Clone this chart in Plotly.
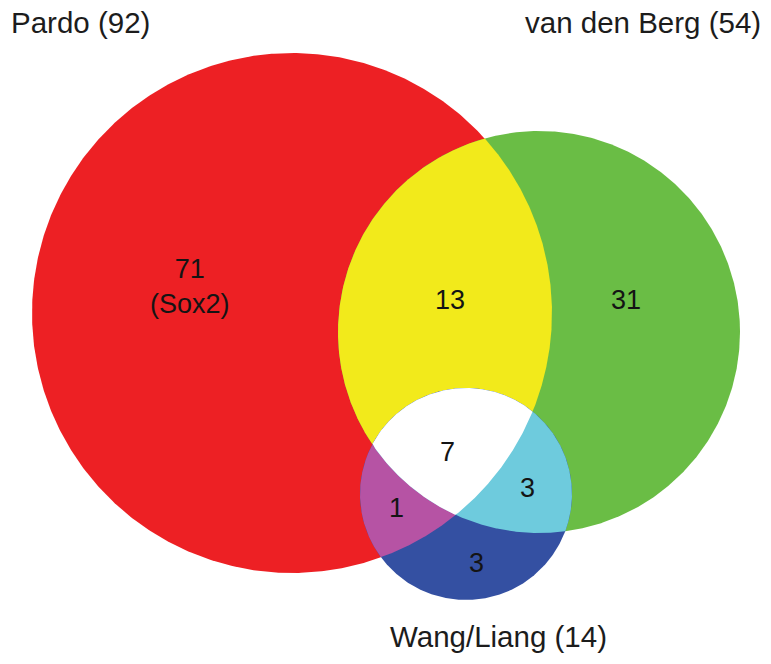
import numpy as np
import plotly.graph_objects as go

# ---- data ----
set_names = ["Pardo", "van den Berg", "Wang/Liang"]
set_totals = [92, 54, 14]
region_names = ["Pardo only", "van den Berg only", "Pardo & van den Berg",
                "all three", "Pardo & Wang/Liang", "van den Berg & Wang/Liang",
                "Wang/Liang only"]
region_counts = [71, 31, 13, 7, 1, 3, 3]
region_notes = ["(Sox2)", "", "", "", "", "", ""]

# ---- layout (pixel geometry of the circles) ----
W, H = 771, 664
circles = {  # cx, cy, r
    "Pardo": (292, 313, 260),
    "van den Berg": (539, 332, 201),
    "Wang/Liang": (466, 494, 106),
}
colors = {
    "red": "#ED2024", "green": "#6ABD45", "yellow": "#F2EA1B",
    "white": "#FFFFFF", "magenta": "#B653A4", "cyan": "#6ECBDD", "blue": "#3450A2",
}


def circle_pts(c, n=720):
    cx, cy, r = c
    t = np.linspace(0, 2 * np.pi, n, endpoint=False)
    return cx + r * np.cos(t), cy + r * np.sin(t)


def inside(x, y, c, tol=1e-6):
    cx, cy, r = c
    return (x - cx) ** 2 + (y - cy) ** 2 <= r * r + tol


def intersect(cs):
    xs, ys = [], []
    for i, c in enumerate(cs):
        x, y = circle_pts(c, 2000)
        m = np.ones_like(x, dtype=bool)
        for j, d in enumerate(cs):
            if j != i:
                m &= inside(x, y, d, tol=1.0)
        xs.append(x[m]); ys.append(y[m])
    x = np.concatenate(xs); y = np.concatenate(ys)
    mx, my = x.mean(), y.mean()
    order = np.argsort(np.arctan2(y - my, x - mx))
    return x[order], y[order]


P, V, Wc = circles["Pardo"], circles["van den Berg"], circles["Wang/Liang"]
layers = [
    (circle_pts(P), colors["red"]),
    (circle_pts(V), colors["green"]),
    (intersect([P, V]), colors["yellow"]),
    (circle_pts(Wc), colors["blue"]),
    (intersect([Wc, P]), colors["magenta"]),
    (intersect([Wc, V]), colors["cyan"]),
    (intersect([Wc, P, V]), colors["white"]),
]

fig = go.Figure()
for (x, y), col in layers:
    fig.add_trace(go.Scatter(
        x=np.append(x, x[0]), y=np.append(y, y[0]), mode="lines",
        fill="toself", fillcolor=col, line=dict(width=0, color=col),
        hoverinfo="skip", showlegend=False))

# region labels
label_pos = [(190, 286), (626, 300), (450, 300), (447, 452),
             (396, 508), (527, 488), (476, 563)]
for (lx, ly), cnt, note in zip(label_pos, region_counts, region_notes):
    txt = f"{cnt}" + (f"<br>{note}" if note else "")
    fig.add_annotation(x=lx, y=ly, xref="x", yref="y", text=txt,
                       showarrow=False,
                       font=dict(family="Liberation Sans, Arial", size=27,
                                 color="#141414"))

# set labels
title_pos = [(9, 22, "left"), (763, 22, "right"), (498, 636, "center")]
for (tx, ty, anc), name, tot in zip(title_pos, set_names, set_totals):
    fig.add_annotation(x=tx, y=ty, xref="x", yref="y", text=f"{name} ({tot})",
                       showarrow=False, xanchor=anc, yanchor="middle",
                       font=dict(family="Liberation Sans, Arial", size=29.5,
                                 color="#1c1c1c"))

fig.update_layout(
    width=W, height=H, margin=dict(l=0, r=0, t=0, b=0),
    paper_bgcolor="white", plot_bgcolor="white",
    xaxis=dict(range=[0, W], visible=False, fixedrange=True),
    yaxis=dict(range=[H, 0], visible=False, fixedrange=True),
)
fig.write_html("out.html", config={"displayModeBar": False},
               post_script="document.body.style.margin='0';"
                           "document.body.style.overflow='hidden';")
